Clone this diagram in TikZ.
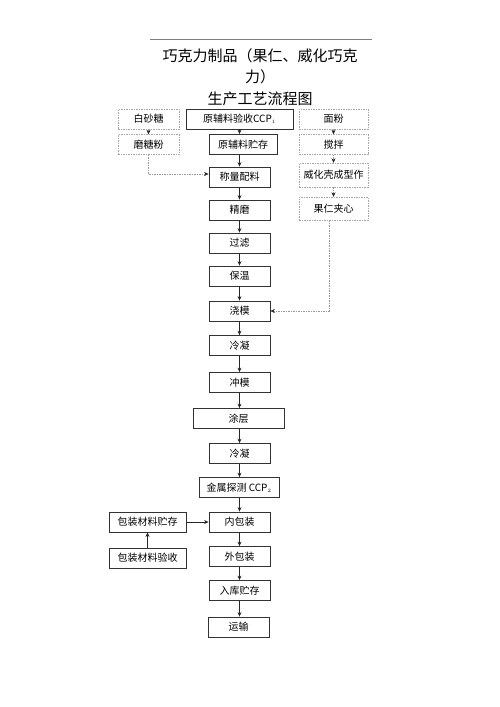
\documentclass[tikz,border=0pt]{standalone}
\usepackage{fontspec}
\setmainfont{Noto Sans CJK SC}
\usetikzlibrary{arrows.meta, positioning}

\begin{document}
\begin{tikzpicture}[
    x=1pt, y=-1pt,
    font=\fontsize{10}{12}\selectfont,
    proc/.style={draw=black!80, line width=0.8pt, minimum width=61pt, minimum height=20pt, inner sep=1pt},
    aux/.style={draw=black!35, dash pattern=on 1.5pt off 1pt, minimum width=61pt, minimum height=20pt, inner sep=1pt},
    arrow/.style={-{Stealth[length=4.5pt,width=4pt]}, line width=0.8pt, draw=black!85},
    dasharrow/.style={-{Stealth[length=4.5pt,width=4pt,color=black!85,fill=black!85,line width=0.4pt]}, draw=black!40, dash pattern=on 1.5pt off 1pt}
]
    \useasboundingbox (0,0) rectangle (500,707);
    % title
    \draw[black!50, line width=0.8pt] (150,39) coordinate (rulel) -- (372,39) coordinate (ruler);
    \node[font=\fontsize{15}{21.5}\selectfont, align=center] (title) at (260,77) {巧克力制品（果仁、威化巧克\\力）\\生产工艺流程图};

    % main line
    \node[proc, minimum width=107pt] (recv) at (239.5,119) {原辅料验收CCP$_{\scriptscriptstyle 1}$};
    \node[proc, minimum width=68pt] (store) at (243,144.5) {原辅料贮存};
    \node[proc] (weigh) at (239.5,177) {称量配料};
    \node[proc] (grind) at (239.5,210) {精磨};
    \node[proc] (filter) at (239.5,243) {过滤};
    \node[proc] (keep) at (239.5,276) {保温};
    \node[proc] (mould) at (239.5,311) {浇模};
    \node[proc] (cool) at (239.5,345.5) {冷凝};
    \node[proc] (punch) at (239.5,382.5) {冲模};
    \node[proc, minimum width=91pt] (coat) at (238.5,418.5) {涂层};
    \node[proc] (coolb) at (239.5,453.5) {冷凝};
    \node[proc, minimum width=80pt] (metal) at (239,487.5) {金属探测 CCP$_{\scriptscriptstyle 2}$};
    \node[proc] (inner) at (239.5,522) {内包装};
    \node[proc] (outer) at (239.5,556.5) {外包装};
    \node[proc] (ware) at (239.5,590.5) {入库贮存};
    \node[proc] (ship) at (238.5,627) {运输};

    % side inputs
    \node[aux] (sugar) at (148.5,119) {白砂糖};
    \node[aux] (powder) at (148.5,144.5) {磨糖粉};
    \node[aux, minimum width=69pt] (flour) at (333.5,119) {面粉};
    \node[aux, minimum width=69pt] (mix) at (333.5,144.5) {搅拌};
    \node[aux, minimum width=69pt, minimum height=24pt] (wafer) at (333.5,175) {威化壳成型作};
    \node[aux, minimum width=69pt, minimum height=23pt] (nut) at (333.5,208.5) {果仁夹心};
    \node[proc, minimum width=77pt] (pkgstore) at (147.5,522) {包装材料贮存};
    \node[proc, minimum width=77pt] (pkgrecv) at (147.5,558) {包装材料验收};

    \foreach \a/\b in {recv/store, store/weigh, weigh/grind, grind/filter, filter/keep, keep/mould, mould/cool, cool/punch, punch/coat, coat/coolb, coolb/metal, metal/inner, inner/outer, outer/ware, ware/ship}
        \draw[arrow] (\a.south -| 239.5,0) -- (\b.north -| 239.5,0);

    \draw[dasharrow] (sugar) -- (powder);
    \draw[dasharrow] (powder.south) |- ([yshift=3pt]weigh.west);
    \draw[dasharrow] (flour) -- (mix);
    \draw[dasharrow] (mix) -- (wafer);
    \draw[dasharrow] (wafer) -- (nut);
    \draw[dasharrow] ([xshift=-4.5pt]nut.south) |- (mould.east);
    \draw[arrow] (pkgrecv) -- (pkgstore);
    \draw[arrow] (pkgstore) -- (inner);
\end{tikzpicture}
\end{document}
